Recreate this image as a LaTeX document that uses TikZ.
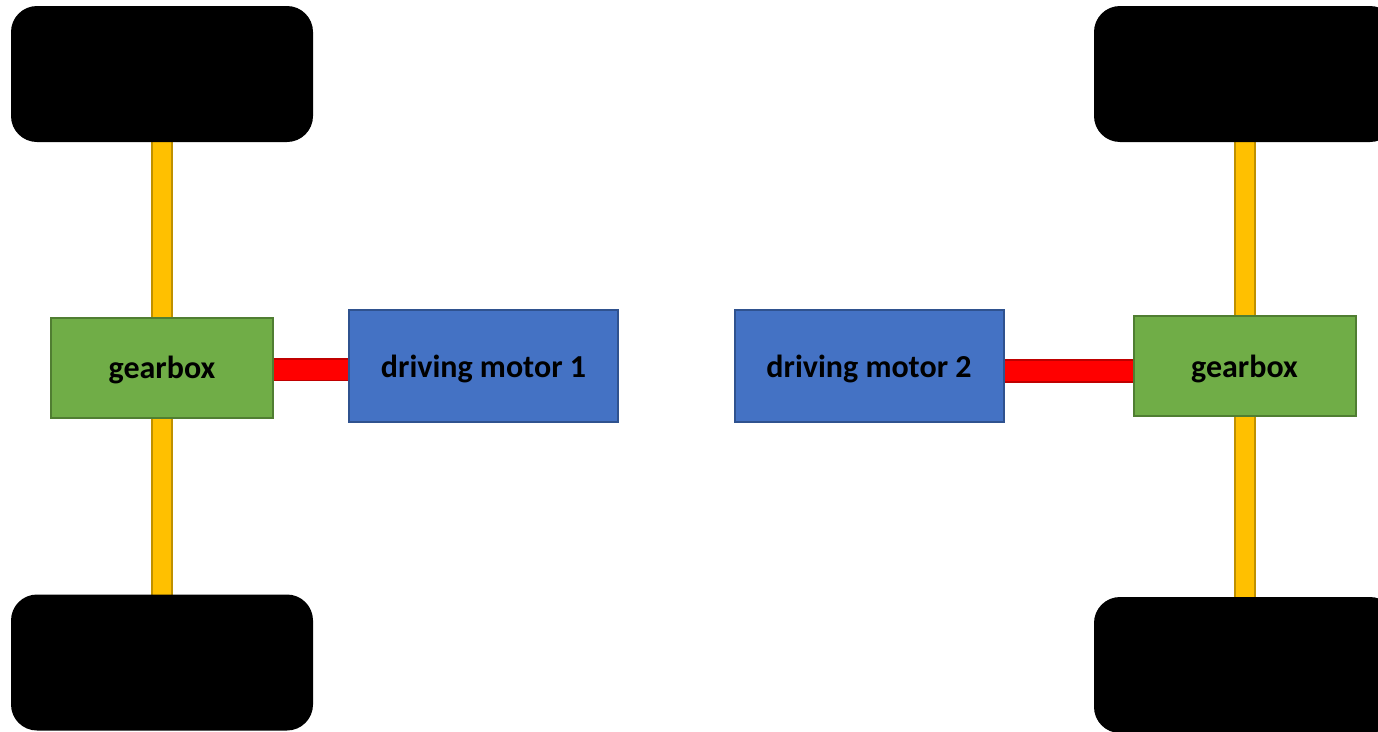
\documentclass[tikz,border=0pt]{standalone}
\usepackage{fontspec}
\setmainfont{Carlito}
\usetikzlibrary{backgrounds}
\definecolor{wheelc}{HTML}{000000}
\definecolor{axlefill}{HTML}{FFC000}
\definecolor{axleedge}{HTML}{BF9000}
\definecolor{gbfill}{HTML}{70AD47}
\definecolor{gbedge}{HTML}{507E32}
\definecolor{motorfill}{HTML}{4472C4}
\definecolor{motoredge}{HTML}{2F528F}
\definecolor{shaftfill}{HTML}{FF0000}
\definecolor{shaftedge}{HTML}{C00000}
\tikzset{
  wheel/.style={fill=wheelc, draw=none, rounded corners=26pt,
    minimum width=302pt, minimum height=136pt, inner sep=0pt},
  gearboxnode/.style={fill=gbfill, draw=gbedge, line width=2pt,
    minimum width=222pt, minimum height=100pt, inner sep=0pt, text depth=0pt,
    font=\fontsize{32}{38}\selectfont\bfseries},
  motornode/.style={fill=motorfill, draw=motoredge, line width=2pt,
    minimum width=269pt, minimum height=112pt, inner sep=0pt, text depth=0pt,
    font=\fontsize{32}{38}\selectfont\bfseries},
  axle/.style={draw=axleedge, line width=1.6pt, double=axlefill, double distance=18pt},
  driveshaft/.style={draw=shaftedge, line width=1.6pt, double=shaftfill, double distance=20pt}
}
\begin{document}
\begin{tikzpicture}[x=1pt, y=-1pt]
  \useasboundingbox (0,0) rectangle (1378,731);
  \clip (0,0) rectangle (1378,731);
  % wheels
  \node[wheel] (wtl) at (162,74) {};
  \node[wheel] (wbl) at (162,662.5) {};
  \node[wheel] (wtr) at (1245,74) {};
  \node[wheel] (wbr) at (1245,665) {};
  % gearboxes
  \node[gearboxnode] (gbl) at (162,367.5) {gearbox};
  \node[gearboxnode] (gbr) at (1244.5,366) {gearbox};
  % motors
  \node[motornode] (m1) at (483.5,366) {driving motor 1};
  \node[motornode] (m2) at (869,366) {driving motor 2};
  % axles and drive shafts behind the boxes
  \begin{scope}[on background layer]
    \draw[axle] (gbl.center) -- (wtl.center);
    \draw[axle] (gbl.center) -- (wbl.center);
    \draw[axle] ([xshift=0.5pt]gbr.center) -- (wtr.center);
    \draw[axle] ([xshift=0.5pt]gbr.center) -- (wbr.center);
    \draw[driveshaft] ([yshift=-2pt]gbl.center) -- ([yshift=-2pt]gbl.center -| m1.center);
    \draw[driveshaft] ([yshift=-5pt]m2.center) -- ([yshift=-5pt]m2.center -| gbr.center);
  \end{scope}
\end{tikzpicture}
\end{document}
